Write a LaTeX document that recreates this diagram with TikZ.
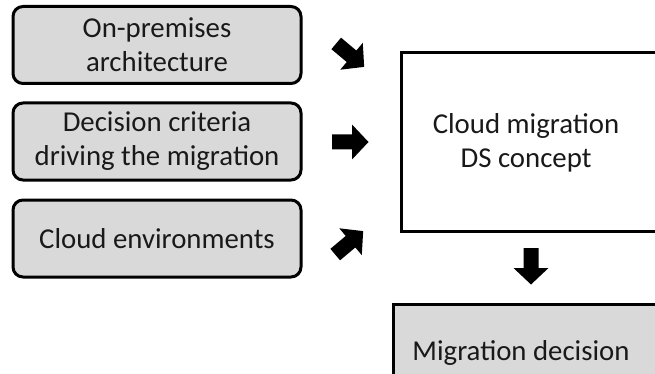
\documentclass[tikz,border=0pt]{standalone}
\usepackage{fontspec}
\setmainfont{Carlito}
\begin{document}
\begin{tikzpicture}[x=1pt,y=-1pt,
  every node/.style={font=\fontsize{28.8}{34}\selectfont, text=black!90},
  input/.style={draw=black, line width=3pt, fill=boxgray, rounded corners=10pt,
    minimum width=288pt, minimum height=77pt, align=center, inner sep=0pt},
  plainbox/.style={draw=black, line width=3pt, inner sep=0pt},
  blockarrow/.pic={\fill[black] (-18,-7.5) -- (2,-7.5) -- (2,-17.5) -- (18.5,0)
    -- (2,17.5) -- (2,7.5) -- (-18,7.5) -- cycle;}]
\definecolor{boxgray}{HTML}{D9D9D9}
\useasboundingbox (0,0) rectangle (655,374);
\clip (0,0) rectangle (655,374);
\fill[white] (0,0) rectangle (655,374);

% input boxes on the left
\node[input] (onprem) at (157,45) {On-premises\\architecture};
\node[input] (criteria) at (157,141.5) {Decision criteria\\driving the migration};
\node[input] (envs) at (157,238.5) {Cloud environments};

% concept box and its label
\node[plainbox, fill=white, minimum width=259pt, minimum height=178pt] (concept) at (530.5,142) {};
\node[align=center] (conceptlabel) at (526,143) {Cloud migration\\DS concept};

% result box
\node[plainbox, fill=boxgray, minimum width=267pt, minimum height=78pt] (decision) at (526.5,343) {};
\node[anchor=base] (decisionlabel) at (521,360) {Migration decision};

% block arrows
\pic[rotate=-40] (a1) at (350,55) {blockarrow};
\pic (a2) at (350,142) {blockarrow};
\pic[rotate=40] (a3) at (349,243) {blockarrow};
\pic[rotate=-90] (a4) at (531,266) {blockarrow};
\end{tikzpicture}
\end{document}
